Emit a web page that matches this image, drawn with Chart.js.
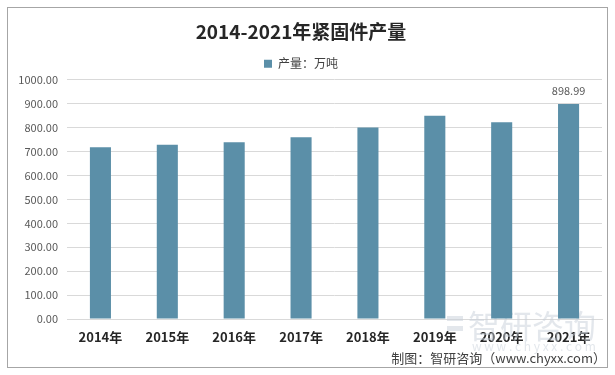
<!DOCTYPE html>
<html>
<head>
<meta charset="utf-8">
<script src="https://cdn.jsdelivr.net/npm/chart.js@4"></script>
<style>
  html, body { margin: 0; padding: 0; background: #fff; }
  #wrap { position: relative; width: 615px; height: 375px; }
  #frame { position: absolute; left: 7px; top: 7px; width: 601px; height: 361px; border: 1px solid #a6a6a6; box-sizing: border-box; pointer-events: none; }
</style>
</head>
<body>
<div id="wrap">
  <canvas id="outputChart" width="615" height="375"></canvas>
  <div id="frame"></div>
</div>
<script>
// data
const years = ['2014年', '2015年', '2016年', '2017年', '2018年', '2019年', '2020年', '2021年'];
const output = [718, 728, 739, 760, 801, 850, 823, 898.99];
const yTicks = [0, 100, 200, 300, 400, 500, 600, 700, 800, 900, 1000];

const FONT = '"Noto Sans CJK SC", "Noto Sans", sans-serif';

// faint watermark + source note
const extras = {
    id: 'extras',
    beforeDatasetsDraw(chart) {
        const c = chart.ctx;
        c.save();
        c.fillStyle = 'rgba(200, 207, 218, 0.5)';
        c.font = '32px ' + FONT;
        c.textBaseline = 'middle';
        c.fillText('智研咨询', 468, 326);
        c.font = '12px ' + FONT;
        c.fillText('w w w . c h y x x . c o m', 472, 346);
        c.fillRect(447, 316, 16, 5);
        c.fillRect(447, 326, 16, 5);
        c.restore();
    },
    afterDraw(chart) {
        const c = chart.ctx;
        c.save();
        c.fillStyle = '#404040';
        c.font = '13px ' + FONT;
        c.textAlign = 'right';
        c.textBaseline = 'middle';
        c.fillText('制图：智研咨询（www.chyxx.com）', 606, 358);
        // value label on last bar
        const meta = chart.getDatasetMeta(0);
        const last = meta.data[meta.data.length - 1];
        c.fillStyle = '#595959';
        c.font = '11px ' + FONT;
        c.textAlign = 'center';
        c.fillText(output[output.length - 1].toFixed(2), last.x, last.y - 13);
        c.restore();
    }
};

const ctx = document.getElementById('outputChart').getContext('2d');
const outputChart = new Chart(ctx, {
    type: 'bar',
    data: {
        labels: years,
        datasets: [{
            label: '产量：万吨',
            data: output,
            backgroundColor: '#5b8fa8',
            barPercentage: 0.315,
            categoryPercentage: 1
        }]
    },
    options: {
        responsive: false,
        animation: false,
        layout: { padding: { left: 0, right: 13, top: 0, bottom: 0 } },
        plugins: {
            title: {
                display: true,
                text: '2014-2021年紧固件产量',
                color: '#262626',
                font: { family: FONT, size: 19, weight: 'bold' },
                padding: { top: 20, bottom: 13 }
            },
            legend: {
                position: 'top',
                labels: {
                    boxWidth: 8,
                    boxHeight: 8,
                    padding: 2,
                    color: '#404040',
                    font: { family: FONT, size: 12 }
                }
            },
            tooltip: { enabled: false }
        },
        scales: {
            x: {
                grid: { display: false },
                border: { color: '#d9d9d9' },
                ticks: {
                    color: '#262626',
                    padding: 2,
                    font: { family: FONT, size: 13, weight: 'bold' }
                },
                afterFit(scale) { scale.height = 56; }
            },
            y: {
                min: 0,
                max: 1000,
                afterBuildTicks(scale) { scale.ticks = yTicks.map(v => ({ value: v })); },
                grid: { color: '#d9d9d9', drawTicks: false },
                border: { display: false },
                ticks: {
                    color: '#595959',
                    padding: 9,
                    font: { family: FONT, size: 11 },
                    callback: v => v.toFixed(2)
                },
                afterFit(scale) { scale.width = 67; }
            }
        }
    },
    plugins: [extras]
});
</script>
</body>
</html>
